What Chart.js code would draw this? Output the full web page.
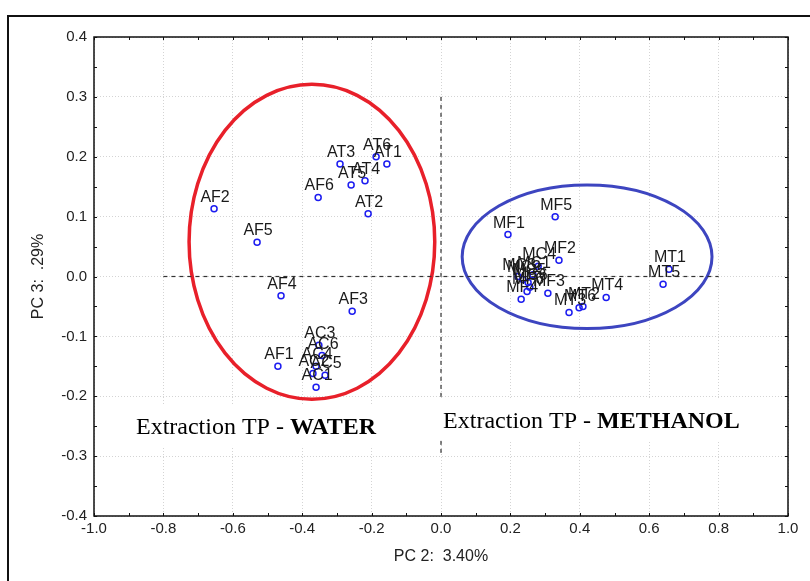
<!DOCTYPE html>
<html lang="en">
<head>
    <meta charset="UTF-8">
    <title>PCA - Extraction TP</title>
    <script src="https://cdn.jsdelivr.net/npm/chart.js"></script>
    <style>
        body { margin: 0; background: #fff; }
        .wrap { position: relative; width: 810px; height: 581px; overflow: hidden; }
        .frame {
            position: absolute; left: 7px; top: 15px;
            width: 900px; height: 700px;
            border: 2px solid #111;
        }
        canvas { position: absolute; left: 0; top: 0; }
    </style>
</head>
<body>
    <div class="wrap">
        <div class="frame"></div>
        <canvas id="pcaChart" width="810" height="581"></canvas>
    </div>

    <script>
        // water extracts (AF, AT, AC)
        const waterNames = ['AF1', 'AF2', 'AF3', 'AF4', 'AF5', 'AF6',
                            'AT1', 'AT2', 'AT3', 'AT4', 'AT5', 'AT6',
                            'AC1', 'AC2', 'AC3', 'AC4', 'AC5', 'AC6'];
        const waterPC2 = [-0.470, -0.654, -0.256, -0.461, -0.530, -0.354,
                          -0.156, -0.210, -0.291, -0.219, -0.259, -0.187,
                          -0.360, -0.369, -0.352, -0.360, -0.334, -0.343];
        const waterPC3 = [-0.150, 0.113, -0.058, -0.032, 0.057, 0.132,
                          0.188, 0.105, 0.188, 0.160, 0.153, 0.200,
                          -0.185, -0.162, -0.115, -0.150, -0.165, -0.132];

        // methanol extracts (MF, MC, MT)
        const methNames = ['MF1', 'MF2', 'MF3', 'MF4', 'MF5', 'MF6',
                           'MC1', 'MC2', 'MC3', 'MC4', 'MC5', 'MC6',
                           'MT1', 'MT2', 'MT3', 'MT4', 'MT5', 'MT6'];
        const methPC2 = [0.193, 0.340, 0.308, 0.231, 0.329, 0.248,
                         0.265, 0.236, 0.222, 0.280, 0.251, 0.256,
                         0.657, 0.409, 0.369, 0.476, 0.640, 0.398];
        const methPC3 = [0.070, 0.027, -0.028, -0.038, 0.100, -0.025,
                         0.003, -0.005, 0.000, 0.017, -0.010, -0.018,
                         0.012, -0.050, -0.060, -0.035, -0.013, -0.052];

        // reference dashed axes through the origin
        const hLineX = [-0.8, 0.8];
        const hLineY = [0, 0];
        const vLineX = [0, 0];
        const vLineY = [0.3, -0.3];

        // group ellipses (data units)
        const ellipses = [
            { cx: -0.372, cy: 0.058, rx: 0.354, ry: 0.263, color: '#e8202a', width: 3.5 },
            { cx: 0.421, cy: 0.033, rx: 0.360, ry: 0.120, color: '#3d45c0', width: 3 }
        ];

        // group captions
        const captions = [
            { x: -0.879, y: -0.263, plain: 'Extraction TP - ', bold: 'WATER' },
            { x: 0.006, y: -0.253, plain: 'Extraction TP - ', bold: 'METHANOL' }
        ];

        const toPoints = (xs, ys) => xs.map((x, i) => ({ x: x, y: ys[i] }));

        const pointStyle = {
            pointRadius: 3,
            pointBorderWidth: 1.5,
            pointBorderColor: '#1c1cf0',
            pointBackgroundColor: 'rgba(255,255,255,0)',
            showLine: false
        };

        const dashLine = {
            showLine: true,
            pointRadius: 0,
            borderColor: '#333',
            borderWidth: 1.2,
            borderDash: [4, 4],
            fill: false
        };

        const serif = '"Liberation Serif", "Times New Roman", serif';

        // ellipses, behind points
        const ellipsePlugin = {
            id: 'ellipses',
            beforeDatasetsDraw(chart) {
                const { ctx, scales: { x, y } } = chart;
                ellipses.forEach(e => {
                    const cx = x.getPixelForValue(e.cx);
                    const cy = y.getPixelForValue(e.cy);
                    const rx = Math.abs(x.getPixelForValue(e.cx + e.rx) - cx);
                    const ry = Math.abs(y.getPixelForValue(e.cy + e.ry) - cy);
                    ctx.save();
                    ctx.beginPath();
                    ctx.ellipse(cx, cy, rx, ry, 0, 0, Math.PI * 2);
                    ctx.strokeStyle = e.color;
                    ctx.lineWidth = e.width;
                    ctx.stroke();
                    ctx.restore();
                });
            }
        };

        // point labels + captions + plot frame
        const labelPlugin = {
            id: 'labels',
            afterDatasetsDraw(chart) {
                const { ctx, scales: { x, y } } = chart;
                ctx.save();
                ctx.font = '16px "Liberation Sans", Arial, sans-serif';
                ctx.fillStyle = '#1a1a1a';
                ctx.textAlign = 'center';
                ctx.textBaseline = 'alphabetic';
                chart.data.datasets.forEach(ds => {
                    if (!ds.names) return;
                    ds.data.forEach((p, i) => {
                        ctx.fillText(ds.names[i], x.getPixelForValue(p.x) + 1, y.getPixelForValue(p.y) - 7);
                    });
                });

                ctx.textAlign = 'left';
                captions.forEach(c => {
                    const px = x.getPixelForValue(c.x);
                    const py = y.getPixelForValue(c.y);
                    ctx.font = '24px ' + serif;
                    const w1 = ctx.measureText(c.plain).width;
                    ctx.font = 'bold 24px ' + serif;
                    const w2 = ctx.measureText(c.bold).width;
                    ctx.fillStyle = '#fff';
                    ctx.fillRect(px - 8, py - 28, w1 + w2 + 16, 40);
                    ctx.fillStyle = '#000';
                    ctx.font = '24px ' + serif;
                    ctx.fillText(c.plain, px, py);
                    ctx.font = 'bold 24px ' + serif;
                    ctx.fillText(c.bold, px + w1, py);
                });
                ctx.restore();
            },
            afterDraw(chart) {
                const { ctx, chartArea: a, scales: { x, y } } = chart;
                ctx.save();
                ctx.strokeStyle = '#111';
                ctx.lineWidth = 1.5;
                ctx.strokeRect(a.left, a.top, a.right - a.left, a.bottom - a.top);
                ctx.lineWidth = 1;
                for (let v = -1; v <= 1.0001; v += 0.1) {
                    const px = Math.round(x.getPixelForValue(v)) + 0.5;
                    ctx.beginPath();
                    ctx.moveTo(px, a.top); ctx.lineTo(px, a.top + 3);
                    ctx.moveTo(px, a.bottom); ctx.lineTo(px, a.bottom - 3);
                    ctx.stroke();
                }
                for (let v = -0.4; v <= 0.4001; v += 0.05) {
                    const py = Math.round(y.getPixelForValue(v)) + 0.5;
                    ctx.beginPath();
                    ctx.moveTo(a.left, py); ctx.lineTo(a.left + 3, py);
                    ctx.moveTo(a.right, py); ctx.lineTo(a.right - 3, py);
                    ctx.stroke();
                }
                ctx.restore();
            }
        };

        const tickFont = { family: '"Liberation Sans", Arial, sans-serif', size: 15 };
        const titleFont = { family: '"Liberation Sans", Arial, sans-serif', size: 16 };

        const chart = new Chart(document.getElementById('pcaChart'), {
            type: 'scatter',
            data: {
                datasets: [
                    Object.assign({ data: toPoints(hLineX, hLineY) }, dashLine),
                    Object.assign({ data: toPoints(vLineX, vLineY) }, dashLine),
                    Object.assign({ data: toPoints(waterPC2, waterPC3), names: waterNames }, pointStyle),
                    Object.assign({ data: toPoints(methPC2, methPC3), names: methNames }, pointStyle)
                ]
            },
            options: {
                responsive: false,
                animation: false,
                layout: { padding: { top: 37, right: 22, left: 0, bottom: 0 } },
                plugins: {
                    legend: { display: false },
                    tooltip: { enabled: false }
                },
                scales: {
                    x: {
                        type: 'linear',
                        min: -1, max: 1,
                        afterFit(scale) { scale.height = 65; },
                        ticks: {
                            stepSize: 0.2,
                            padding: 4,
                            color: '#222',
                            font: tickFont,
                            callback: v => Number(v).toFixed(1)
                        },
                        grid: { color: '#d4d4d4', lineWidth: 1, drawTicks: false },
                        border: { display: false, dash: [1, 2] },
                        title: {
                            display: true,
                            text: 'PC 2:  3.40%',
                            color: '#222',
                            font: titleFont,
                            padding: { top: 4, bottom: 15 }
                        }
                    },
                    y: {
                        type: 'linear',
                        min: -0.4, max: 0.4,
                        afterFit(scale) { scale.width = 94; },
                        ticks: {
                            stepSize: 0.1,
                            padding: 7,
                            color: '#222',
                            font: tickFont,
                            callback: v => Number(v).toFixed(1)
                        },
                        grid: { color: '#d4d4d4', lineWidth: 1, drawTicks: false },
                        border: { display: false, dash: [1, 2] },
                        title: {
                            display: true,
                            text: 'PC 3:  .29%',
                            color: '#222',
                            font: titleFont,
                            padding: { top: 29, bottom: 4 }
                        }
                    }
                }
            },
            plugins: [ellipsePlugin, labelPlugin]
        });
    </script>
</body>
</html>
